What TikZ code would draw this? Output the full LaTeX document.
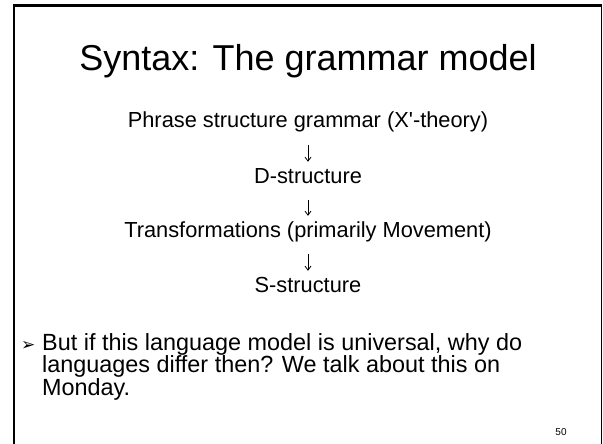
\documentclass[tikz,border=0pt]{standalone}
\usepackage{fontspec}
\setmainfont{Liberation Sans}
\newfontfamily\dingfont{DejaVu Sans}
\usetikzlibrary{arrows.meta}
\begin{document}
\begin{tikzpicture}[
    x=1pt, y=-1pt,
    slideTitle/.style={anchor=base,inner sep=0pt,font=\fontsize{36}{40}\selectfont},
    stageText/.style={anchor=base,inner sep=0pt,text height=16pt,text depth=5pt,font=\fontsize{21.8}{24}\selectfont},
    stageArrow/.style={-{Straight Barb[length=4pt,width=6pt]},line width=0.8pt,shorten <=12pt,shorten >=5pt},
    bulletText/.style={anchor=north west,inner sep=0pt,align=left,font=\fontsize{23.4}{19.2}\selectfont},
    pageNum/.style={anchor=base,inner sep=0pt,font=\fontsize{10}{12}\selectfont},
]
\useasboundingbox (0,0) rectangle (603,444);
% === frame ===
\draw[line width=2.6pt] (14,444) -- (14,5.8) -- (601.5,5.8);
\draw[line width=1.6pt] (601.5,5.8) -- (601.5,444);
% === title ===
\node[slideTitle] (TITLE) at (308,71) {Syntax: The grammar model};
% === stages ===
\node[stageText] (PSG) at (308,128) {Phrase structure grammar (X\textquotesingle-theory)};
\node[stageText] (DS) at (308,183) {D-structure};
\node[stageText] (TR) at (308,237) {Transformations (primarily Movement)};
\node[stageText] (SS) at (308,292) {S-structure};
\draw[stageArrow] (PSG) -- (DS);
\draw[stageArrow] (DS) -- (TR);
\draw[stageArrow] (TR) -- (SS);
% === bullet ===
\node[anchor=base west,inner sep=0pt,font=\dingfont\fontsize{17}{19}\selectfont] (BUL) at (21,350) {➢};
\node[bulletText] (NOTE) at (42,333) {But if this language model is universal, why do\\languages differ then? We talk about this on\\Monday.};
\node[pageNum] (PAGE) at (561,435) {50};
\end{tikzpicture}
\end{document}
